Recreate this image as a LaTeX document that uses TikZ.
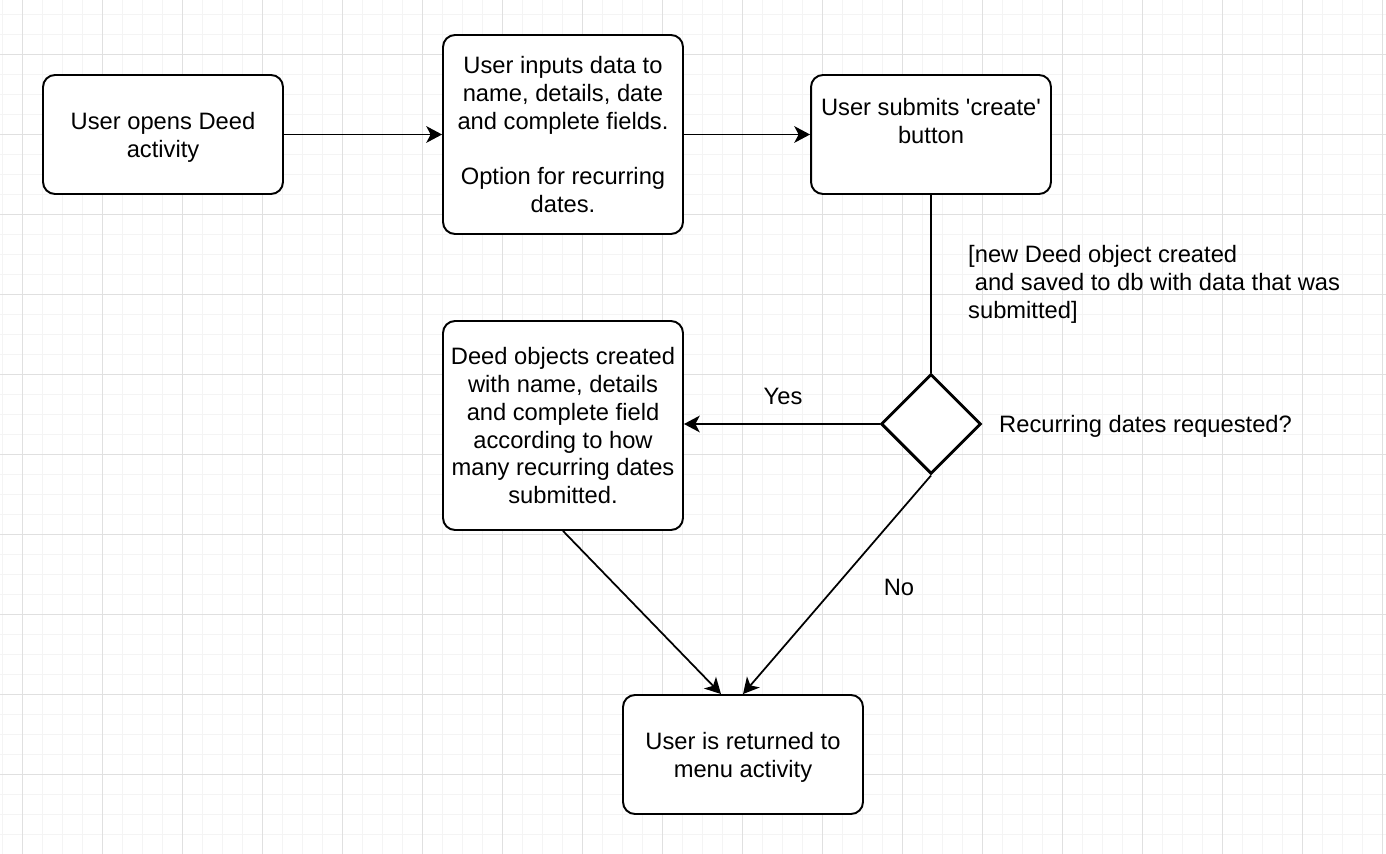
\documentclass[tikz,border=0pt]{standalone}
\usepackage{fontspec}
\setmainfont{Liberation Sans}
\usepackage{tikz}
\usetikzlibrary{shapes.geometric, arrows.meta}
\definecolor{gridminor}{HTML}{F4F4F4}
\definecolor{gridmajor}{HTML}{E0E0E0}
\tikzstyle{step box} = [rectangle, rounded corners=6.8pt, draw, line width=1.1pt, align=center, minimum width=4.8cm, minimum height=2.38cm, fill=white, text depth=-1.5pt]
\tikzstyle{choice} = [diamond, draw, line width=1.7pt, minimum width=2cm, minimum height=2cm, inner sep=0pt, fill=white]
\tikzstyle{arrow} = [line width=1pt,-{Stealth[length=9pt,width=9.5pt,inset=2.5pt]}]
\tikzstyle{plain} = [line width=1pt]

\begin{document}
\begin{tikzpicture}[x=0.02cm, y=-0.02cm, font=\fontsize{13.5}{15.9}\selectfont]
  \useasboundingbox (0,0) rectangle (1386,854);
  \fill[white] (0,0) rectangle (1386,854);
  % grid
  \foreach \gx in {2,22,...,1382} \draw[gridminor, line width=0.5pt] (\gx,0) -- (\gx,854);
  \foreach \gy in {14,34,...,854} \draw[gridminor, line width=0.5pt] (0,\gy) -- (1386,\gy);
  \foreach \gx in {22,102,...,1382} \draw[gridmajor, line width=0.5pt] (\gx,0) -- (\gx,854);
  \foreach \gy in {54,134,...,854} \draw[gridmajor, line width=0.5pt] (0,\gy) -- (1386,\gy);

  \node (open) [step box] at (163,134.5) {User opens Deed\\activity};
  \node (input) [step box, minimum height=3.98cm] at (563,134.5) {User inputs data to\\name, details, date\\and complete fields.\\[15.9pt]Option for recurring\\dates.};
  \node (submit) [step box] at (931,134.5) {User submits \textquotesingle create\textquotesingle\\button\\~};
  \node (recur) [choice] at (931,424) {};
  \node (objs) [step box, minimum height=4.18cm] at (563,425.5) {Deed objects created\\with name, details\\and complete field\\according to how\\many recurring dates\\submitted.};
  \node (menu) [step box] at (743,754.5) {User is returned to\\menu activity};

  \node (saved) [anchor=west, align=left] at (962,284) {[new Deed object created\\\hspace{0.28em}and saved to db with data that was\\submitted]};
  \node (ask) [anchor=west] at (993,426) {Recurring dates requested?};
  \node (yes) at (783,396) {Yes};
  \node (no) at (899,587) {No};

  \draw [arrow] (open) -- (input);
  \draw [arrow] (input) -- (submit);
  \draw [plain] (submit) -- (recur);
  \draw [arrow] (recur.west) -- (objs.east |- recur.west);
  \draw [arrow] (objs.south) -- ([xshift=-0.44cm]menu.north);
  \draw [arrow] (recur.south) -- (menu.north);
\end{tikzpicture}
\end{document}
